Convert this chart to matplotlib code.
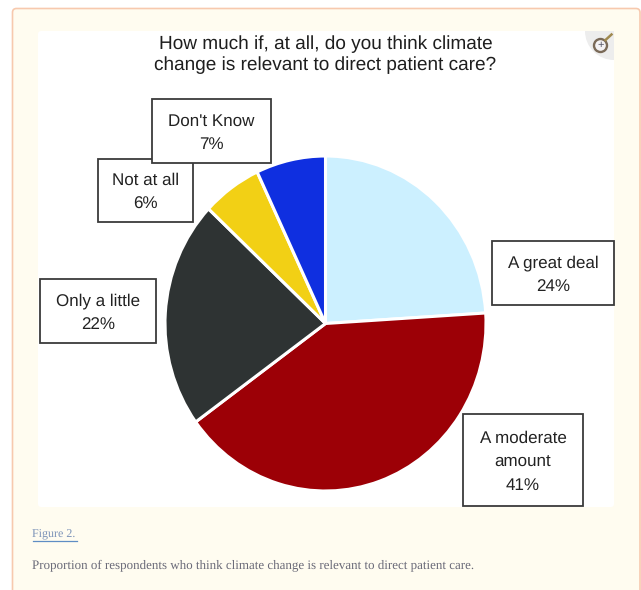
import matplotlib
matplotlib.use("Agg")
import matplotlib.pyplot as plt
from matplotlib.patches import FancyBboxPatch, Rectangle, Circle, Wedge

categories = ["A great deal", "A moderate\namount", "Only a little", "Not at all", "Don't Know"]
values = [24, 41, 22, 6, 7]
colors = ["#CCF0FF", "#9C0006", "#2E3333", "#F2D015", "#0F2FE0"]
title = "How much if, at all, do you think climate\nchange is relevant to direct patient care?"
fig_label = "Figure 2."
caption = "Proportion of respondents who think climate change is relevant to direct patient care."

W, H = 641, 590
plt.rcParams["font.family"] = ["Liberation Sans", "DejaVu Sans"]
plt.rcParams["text.hinting"] = "none"
plt.rcParams["text.hinting_factor"] = 1
fig = plt.figure(figsize=(W / 100, H / 100), dpi=100, facecolor="white")

bg = fig.add_axes([0, 0, 1, 1], zorder=0)
bg.set_xlim(0, W); bg.set_ylim(H, 0); bg.axis("off")
bg.add_patch(FancyBboxPatch((12.5, 8.5), 627.5, 640, boxstyle="round,pad=0,rounding_size=4",
                            fc="#FFFCF0", ec="#F7C9AE", lw=1.2))
bg.add_patch(FancyBboxPatch((38, 31), 576, 476, boxstyle="round,pad=0,rounding_size=3",
                            fc="white", ec="none"))

# zoom icon
bg.add_patch(Wedge((614, 31), 29, 90, 180, fc="#EDEDED", ec="none"))
bg.add_patch(Circle((600.5, 45.5), 6.5, fc="#F4F2F4", ec="#7A6A58", lw=1.7))
bg.plot([605.5, 611.5], [40, 34.5], color="#A08A50", lw=1.8)
bg.text(600.5, 45.5, "+", fontsize=8, color="#555566", ha="center", va="center")

bg.text(325.5, 54.5, title, fontsize=13.9, color="#1E1E1E", ha="center", va="center", linespacing=1.24)

bg.text(32.5, 534.5, fig_label, fontsize=8.9, family="Liberation Serif", color="#7C93B8", ha="left", va="center")
bg.plot([32.5, 76.5], [540.5, 540.5], color="#5F8DC4", lw=0.9)
bg.text(32.5, 565, caption, fontsize=9.0, family="Liberation Serif", color="#6A6A78", ha="left", va="center")

RX, RY = 160.5, 167.5
CX, CY = 325.5, 323.5
ax = fig.add_axes([(CX - RX) / W, 1 - (CY + RY) / H, 2 * RX / W, 2 * RY / H], zorder=1)
ax.pie(values, colors=colors, startangle=90, counterclock=False, radius=1,
       wedgeprops=dict(edgecolor="white", linewidth=2.2), normalize=True)
ax.set_xlim(-1, 1); ax.set_ylim(-1, 1); ax.set_aspect("auto")
for p in ax.patches:
    p.set_clip_on(False)

ov = fig.add_axes([0, 0, 1, 1], zorder=2)
ov.set_xlim(0, W); ov.set_ylim(H, 0); ov.axis("off"); ov.patch.set_alpha(0)

boxes = [(492, 241, 122, 64), (463, 414, 120, 92), (40, 279, 116, 64), (98, 159, 95, 63), (152, 99, 119, 64)]
for i, (x, y, w, h) in enumerate(boxes):
    ov.add_patch(Rectangle((x, y), w, h, fc="white", ec="#3A3A3A", lw=1.3, zorder=2 + i))
    ov.text(x + w / 2, y + h / 2 + 2, f"{categories[i]}\n{values[i]}%", fontsize=12, color="#222222",
            ha="center", va="center", linespacing=1.62, zorder=2 + i)

fig.savefig("out.png", dpi=100, facecolor="white")
